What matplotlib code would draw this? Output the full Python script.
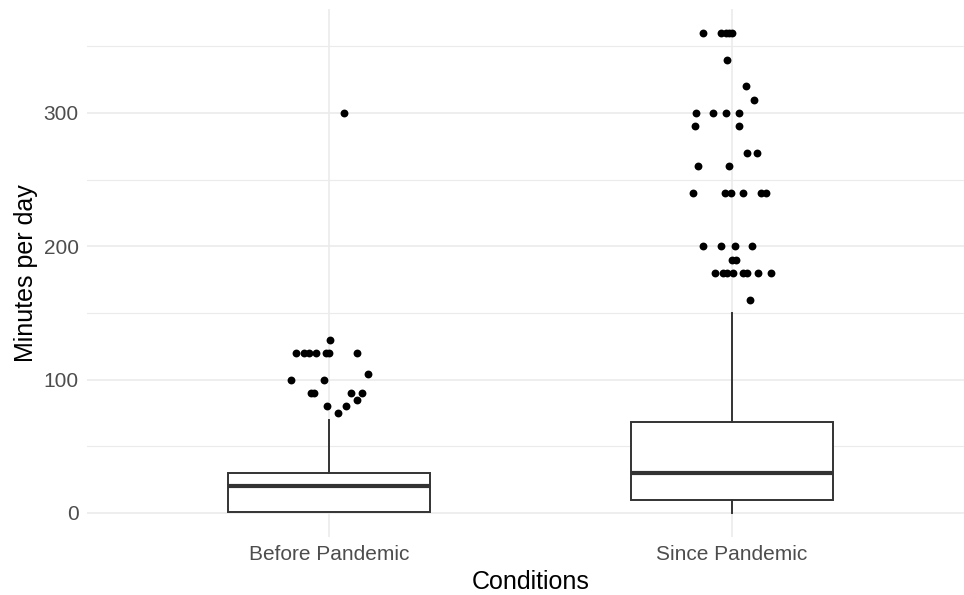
import matplotlib
matplotlib.use("Agg")
import matplotlib.pyplot as plt
import numpy as np

plt.rcParams['font.family'] = ['Liberation Sans', 'DejaVu Sans']

# categories and box summary values (minutes per day)
conditions = ["Before Pandemic", "Since Pandemic"]
q1 = [1, 10]
median = [20, 30]
q3 = [30, 68]
whisker_low = [1, 0]
whisker_high = [70, 150]

# outliers: value and horizontal jitter
before_values = [300, 130, 120, 120, 120, 120, 120, 120, 120, 100, 100, 104,
                 90, 90, 90, 90, 85, 80, 80, 75]
before_jitter = [0.037, 0.002, -0.082, -0.061, -0.049, -0.031, -0.007, 0.001, 0.069,
                 -0.094, -0.012, 0.098, -0.045, -0.038, 0.056, 0.081, 0.070,
                 -0.004, 0.042, 0.023]
since_values = [360, 360, 360, 360, 360, 340, 320, 310, 300, 300, 300, 300,
                290, 290, 270, 270, 260, 260, 240, 240, 240, 240, 240, 240,
                200, 200, 200, 200, 190, 190, 180, 180, 180, 180, 180, 180,
                180, 180, 160]
since_jitter = [-0.071, -0.027, -0.015, -0.007, -0.001, -0.012, 0.035, 0.055,
                -0.089, -0.048, -0.015, 0.018, -0.092, 0.017, 0.037, 0.062,
                -0.084, -0.007, -0.096, -0.017, -0.002, 0.027, 0.072, 0.084,
                -0.071, -0.028, 0.006, 0.050, -0.001, 0.010, -0.042, -0.022,
                -0.012, 0.002, 0.027, 0.036, 0.064, 0.096, 0.045]

fig = plt.figure(figsize=(9.64, 5.95), dpi=100)
ax = fig.add_axes([87 / 964, 58 / 595, 887 / 964, 528 / 595])

stats = []
for i in range(len(conditions)):
    stats.append(dict(q1=q1[i], med=median[i], q3=q3[i],
                      whislo=whisker_low[i], whishi=whisker_high[i]))
ax.bxp(stats, positions=[1, 2], widths=0.5, showfliers=False, showcaps=False,
       patch_artist=True,
       boxprops=dict(facecolor="white", edgecolor="#333333", lw=1.4),
       whiskerprops=dict(color="#333333", lw=1.4),
       medianprops=dict(color="#333333", lw=3.0))

ax.scatter(1 + np.array(before_jitter), before_values, s=32, color="black", zorder=3, lw=0)
ax.scatter(2 + np.array(since_jitter), since_values, s=32, color="black", zorder=3, lw=0)

grid_col = "#EBEBEB"
ax.set_xlim(0.4, 2.6)
ax.set_ylim(-18, 378)
ax.set_yticks([0, 100, 200, 300])
ax.set_yticks([50, 150, 250, 350], minor=True)
ax.set_xticks([1, 2])
ax.set_xticklabels(conditions)
ax.grid(True, which="major", color=grid_col, lw=1.2)
ax.grid(True, which="minor", axis="y", color=grid_col, lw=0.8)
ax.set_axisbelow(True)
for s in ax.spines.values():
    s.set_visible(False)
ax.tick_params(which="both", length=0, labelsize=15, labelcolor="#4D4D4D", pad=6)

ax.set_xlabel("Conditions", fontsize=18, color="black", labelpad=4)
ax.set_ylabel("Minutes per day", fontsize=18, color="black", labelpad=4)

fig.savefig("out.png", dpi=100)
